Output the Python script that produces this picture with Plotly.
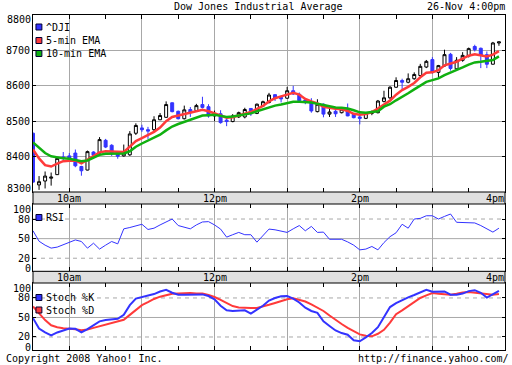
import plotly.graph_objects as go
import pandas as pd

# ---------------- data ----------------
times = pd.date_range("2008-11-26 09:30", periods=78, freq="5min")

open_ = [8466, 8320, 8331, 8339, 8349, 8399, 8402, 8410, 8372, 8362,
         8413, 8410, 8446, 8432, 8413, 8402, 8405, 8466, 8481, 8476,
         8476, 8504, 8511, 8552, 8528, 8507, 8533, 8530, 8547, 8541,
         8515, 8521, 8503, 8499, 8512, 8512, 8536, 8522, 8543, 8553,
         8575, 8567, 8565, 8586, 8576, 8560, 8555, 8527, 8548, 8520,
         8528, 8524, 8534, 8520, 8512, 8508, 8522, 8524, 8556, 8566,
         8596, 8615, 8610, 8620, 8629, 8653, 8674, 8638, 8656, 8689,
         8648, 8672, 8684, 8711, 8706, 8688, 8661, 8721]
high = [8468, 8345, 8358, 8355, 8398, 8413, 8410, 8420, 8374, 8417,
        8415, 8455, 8450, 8435, 8416, 8434, 8472, 8494, 8490, 8484,
        8514, 8523, 8556, 8553, 8530, 8544, 8540, 8549, 8569, 8548,
        8530, 8531, 8511, 8520, 8527, 8538, 8537, 8550, 8558, 8580,
        8576, 8572, 8597, 8600, 8581, 8565, 8565, 8562, 8550, 8537,
        8538, 8540, 8550, 8522, 8524, 8525, 8530, 8560, 8586, 8599,
        8624, 8620, 8635, 8638, 8662, 8673, 8681, 8659, 8702, 8693,
        8681, 8695, 8708, 8716, 8708, 8697, 8724, 8724]
low = [8326, 8306, 8310, 8318, 8348, 8387, 8388, 8370, 8346, 8361,
       8400, 8407, 8424, 8402, 8394, 8400, 8402, 8461, 8470, 8450,
       8472, 8503, 8509, 8525, 8505, 8505, 8512, 8528, 8536, 8510,
       8500, 8493, 8486, 8497, 8509, 8508, 8515, 8520, 8540, 8550,
       8557, 8553, 8563, 8574, 8553, 8548, 8524, 8525, 8511, 8512,
       8512, 8522, 8514, 8508, 8491, 8506, 8517, 8522, 8553, 8562,
       8594, 8591, 8607, 8617, 8627, 8650, 8634, 8624, 8654, 8643,
       8646, 8668, 8680, 8697, 8650, 8650, 8660, 8713]
close = [8328, 8329, 8345, 8342, 8395, 8395, 8395, 8374, 8360, 8414,
         8404, 8448, 8427, 8408, 8401, 8410, 8464, 8488, 8476, 8472,
         8504, 8516, 8547, 8527, 8507, 8532, 8524, 8544, 8539, 8515,
         8522, 8496, 8499, 8515, 8524, 8533, 8521, 8548, 8555, 8574,
         8565, 8563, 8586, 8577, 8558, 8556, 8529, 8548, 8520, 8526,
         8521, 8534, 8515, 8510, 8508, 8522, 8526, 8557, 8566, 8596,
         8615, 8610, 8620, 8632, 8655, 8669, 8639, 8657, 8688, 8649,
         8672, 8686, 8705, 8702, 8686, 8661, 8721, 8724]

ema5 = [8420, 8395, 8376, 8372, 8380, 8387, 8388, 8389, 8381, 8391,
        8402, 8412, 8415, 8414, 8412, 8413, 8428, 8444, 8452, 8460,
        8470, 8482, 8500, 8512, 8516, 8520, 8524, 8528, 8532, 8528,
        8522, 8514, 8510, 8511, 8515, 8521, 8526, 8535, 8543, 8556,
        8565, 8570, 8576, 8580, 8575, 8563, 8556, 8550, 8541, 8537,
        8535, 8534, 8529, 8521, 8518, 8520, 8526, 8536, 8546, 8558,
        8575, 8588, 8597, 8608, 8624, 8637, 8638, 8644, 8658, 8663,
        8668, 8677, 8685, 8689, 8686, 8683, 8688, 8698]
ema10 = [8440, 8425, 8410, 8401, 8397, 8395, 8394, 8391, 8387, 8389,
         8397, 8405, 8408, 8408, 8408, 8409, 8415, 8428, 8437, 8446,
         8454, 8462, 8474, 8485, 8492, 8498, 8503, 8510, 8516, 8517,
         8518, 8515, 8512, 8513, 8516, 8519, 8522, 8528, 8534, 8540,
         8544, 8547, 8552, 8555, 8555, 8555, 8553, 8549, 8545, 8541,
         8539, 8538, 8536, 8531, 8525, 8524, 8525, 8528, 8541, 8548,
         8559, 8568, 8579, 8590, 8601, 8611, 8616, 8621, 8630, 8637,
         8643, 8652, 8660, 8666, 8668, 8670, 8673, 8683]

rsi = [62, 46, 40, 35.5, 37, 41, 45, 48, 45.6, 35.4,
       43, 34, 40, 45.6, 42, 65, 67, 69, 72, 64,
       66, 71, 75, 80, 70, 67, 65, 71, 75.5, 76,
       71, 64.6, 52.3, 56, 59.5, 56, 56, 44.6, 54, 64.6,
       63.5, 62, 59.5, 65, 70, 62, 68.7, 59.5, 60, 49,
       49, 49, 45, 40, 32.8, 34, 38, 32.8, 44, 53,
       59, 72, 66, 80, 81, 85, 85, 80, 84, 87.7,
       75, 74.5, 74, 74, 70, 64.6, 60, 66]

stoch_k = [49, 33, 27, 22.5, 27, 30.5, 33, 32.5, 27, 32,
           38, 44, 46, 47, 48, 54, 69, 79, 81.5, 83.5,
           86, 90, 92.5, 88, 85, 85, 85, 86, 85.5, 83,
           78, 68, 61, 60, 61, 61, 56, 62, 68, 76,
           80, 82.5, 83, 79, 73, 65, 60, 57, 44, 37,
           30, 26, 23.5, 15, 13.5, 19.5, 26, 35, 50, 66,
           72, 77, 81, 84.5, 88.5, 92.5, 89.5, 89.5, 90, 85,
           85, 86.7, 90.5, 92, 88, 80.5, 86, 91]
stoch_d = [67, 56, 46, 38, 35, 33.5, 33, 32, 30.5, 31.5,
           34, 36.5, 39.5, 41.5, 43.5, 46.5, 54, 61, 69, 73.5,
           78.5, 82, 84.5, 86.5, 87, 87.7, 87.5, 87, 86.7, 84.5,
           81.5, 77, 72, 67.5, 65.5, 64.6, 64.6, 64.6, 66.5, 69.5,
           72.3, 75, 78, 79.5, 77, 74.5, 70, 65, 60, 53,
           46, 40, 34, 29, 24, 22, 21, 25, 31, 42,
           55, 61, 67.5, 74, 80, 84, 87.5, 86.5, 86, 85,
           86.5, 88.5, 89, 88, 87.5, 85.5, 85, 86]

price_ticks = [8400, 8500, 8600, 8700]
osc_ticks = [20, 50, 80]
time_labels = ["10am", "12pm", "2pm", "4pm"]
time_label_pos = ["2008-11-26 10:00", "2008-11-26 12:00",
                  "2008-11-26 14:00", "2008-11-26 16:00"]

# ---------------- styling ----------------
W, H = 512, 365
ML, MR, MT, MB = 28, 6, 15, 15
PW, PH = W - ML - MR, H - MT - MB
BLUE = "#3333ff"
RED = "#ff3a3a"
GREEN = "#10b010"
GRID = "#a8a8a8"
BAND = "#e0e0e0"
FONT = dict(family="DejaVu Sans Mono", size=10, color="black")


def fx(x):
    return (x - ML) / PW


def fy(y):
    return (H - MB - y) / PH


XR = ["2008-11-26 09:30", "2008-11-26 16:00"]

fig = go.Figure()
fig.add_trace(go.Scatter(x=times, y=ema5, mode="lines",
                         line=dict(color=RED, width=2.5), xaxis="x", yaxis="y"))
fig.add_trace(go.Scatter(x=times, y=ema10, mode="lines",
                         line=dict(color=GREEN, width=2.5), xaxis="x", yaxis="y"))
fig.add_trace(go.Candlestick(
    x=times, open=open_, high=high, low=low, close=close,
    increasing=dict(line=dict(color="black", width=1), fillcolor="white"),
    decreasing=dict(line=dict(color=BLUE, width=1), fillcolor=BLUE),
    whiskerwidth=0, xaxis="x", yaxis="y"))
fig.add_trace(go.Scatter(x=times, y=rsi, mode="lines",
                         line=dict(color=BLUE, width=1), xaxis="x2", yaxis="y2"))
fig.add_trace(go.Scatter(x=times, y=stoch_d, mode="lines",
                         line=dict(color=RED, width=2), xaxis="x3", yaxis="y3"))
fig.add_trace(go.Scatter(x=times, y=stoch_k, mode="lines",
                         line=dict(color=BLUE, width=2), xaxis="x3", yaxis="y3"))


def xaxis_cfg(anchor):
    return dict(type="date", range=XR, anchor=anchor, domain=[0, 1],
                showgrid=True, gridcolor=GRID, gridwidth=1,
                tick0="2008-11-26 10:00", dtick=3600000,
                ticks="inside", ticklen=4, tickcolor="black",
                minor=dict(tick0="2008-11-26 09:30", dtick=1800000,
                           ticks="inside", ticklen=4, tickcolor="black",
                           showgrid=False),
                showticklabels=False, showline=True, linecolor="black",
                linewidth=1, mirror="ticks", zeroline=False,
                rangeslider=dict(visible=False), fixedrange=True)


def yaxis_cfg(anchor, dom, rng, vals, grid):
    return dict(anchor=anchor, domain=dom, range=rng, tickvals=vals,
                showgrid=grid, gridcolor=GRID, gridwidth=1,
                ticks="inside", ticklen=3, tickcolor="black",
                showline=True, linecolor="black", linewidth=1,
                mirror="ticks", zeroline=False, tickfont=FONT,
                fixedrange=True)


fig.update_layout(
    width=W, height=H, autosize=False,
    margin=dict(l=ML, r=MR, t=MT, b=MB, pad=0),
    paper_bgcolor="white", plot_bgcolor="white", showlegend=False,
    xaxis=xaxis_cfg("y"), xaxis2=xaxis_cfg("y2"), xaxis3=xaxis_cfg("y3"),
    yaxis=yaxis_cfg("x", [fy(192), 1], [8300, 8800], price_ticks, True),
    yaxis2=yaxis_cfg("x2", [fy(271.3), fy(204)], [0, 103], osc_ticks, False),
    yaxis3=yaxis_cfg("x3", [0, fy(283)], [0, 103], osc_ticks, False),
    boxgap=0.3,
)

shapes = []
# grey time bands
for y0, y1 in [(192, 204), (271.3, 283)]:
    shapes.append(dict(type="rect", xref="paper", yref="paper",
                       x0=0, x1=1, y0=fy(y1), y1=fy(y0),
                       fillcolor=BAND, line=dict(color="black", width=1),
                       layer="above"))
# oscillator reference lines
for ax in ["2", "3"]:
    for v in osc_ticks:
        shapes.append(dict(type="line", xref="x%s domain" % ax, yref="y" + ax,
                           x0=0, x1=1, y0=v, y1=v, layer="below",
                           line=dict(color=GRID, width=1,
                                     dash="solid" if v == 50 else "4px,4px")))
# legend swatches
legend_items = [(27, BLUE, "^DJI"), (40.5, RED, "5-min EMA"),
                (53.5, GREEN, "10-min EMA"), (217.5, BLUE, "RSI"),
                (297.5, BLUE, "Stoch %K"), (310, RED, "Stoch %D")]
annotations = []
for yc, col, txt in legend_items:
    shapes.append(dict(type="rect", xref="paper", yref="paper",
                       x0=fx(31), x1=fx(37), y0=fy(yc + 3), y1=fy(yc - 3),
                       fillcolor=col, line=dict(color="#000033", width=1),
                       layer="above"))
    annotations.append(dict(text=txt, xref="paper", yref="paper", x=fx(40),
                            y=fy(yc), xanchor="left", yanchor="middle",
                            showarrow=False, font=FONT, borderpad=0))

# time labels in both bands
for yc in (198, 277.5):
    for lab, pos in zip(time_labels, time_label_pos):
        annotations.append(dict(text=lab, xref="x", yref="paper", x=pos,
                                y=fy(yc), xanchor="right" if lab == "4pm" else "center",
                                yanchor="middle", showarrow=False, font=FONT,
                                borderpad=0))

# end labels of the y axes (drawn just inside the plot edges)
end_labels = [("8800", 19), ("8300", 188.5), ("100", 209), ("0", 268.5),
              ("100", 288), ("0", 347.5)]
for txt, yc in end_labels:
    annotations.append(dict(text=txt, xref="paper", yref="paper", x=fx(26.5),
                            y=fy(yc), xanchor="right", yanchor="middle",
                            showarrow=False, font=FONT, borderpad=0))

annotations += [
    dict(text="Dow Jones Industrial Average", xref="paper", yref="paper",
         x=fx(256), y=fy(7), xanchor="center", yanchor="middle",
         showarrow=False, font=FONT, borderpad=0),
    dict(text="26-Nov 4:00pm", xref="paper", yref="paper", x=fx(507),
         y=fy(7), xanchor="right", yanchor="middle", showarrow=False,
         font=FONT, borderpad=0),
    dict(text="Copyright 2008 Yahoo! Inc.", xref="paper", yref="paper",
         x=fx(0), y=fy(358), xanchor="left", yanchor="middle",
         showarrow=False, font=FONT, borderpad=0),
    dict(text="http://finance.yahoo.com/", xref="paper", yref="paper",
         x=fx(511), y=fy(358), xanchor="right", yanchor="middle",
         showarrow=False, font=FONT, borderpad=0),
]

fig.update_layout(shapes=shapes, annotations=annotations)
fig.write_html("out.html",
               config={"displayModeBar": False, "staticPlot": True},
               post_script="document.body.style.margin='0';"
                           "document.body.style.padding='0';")
